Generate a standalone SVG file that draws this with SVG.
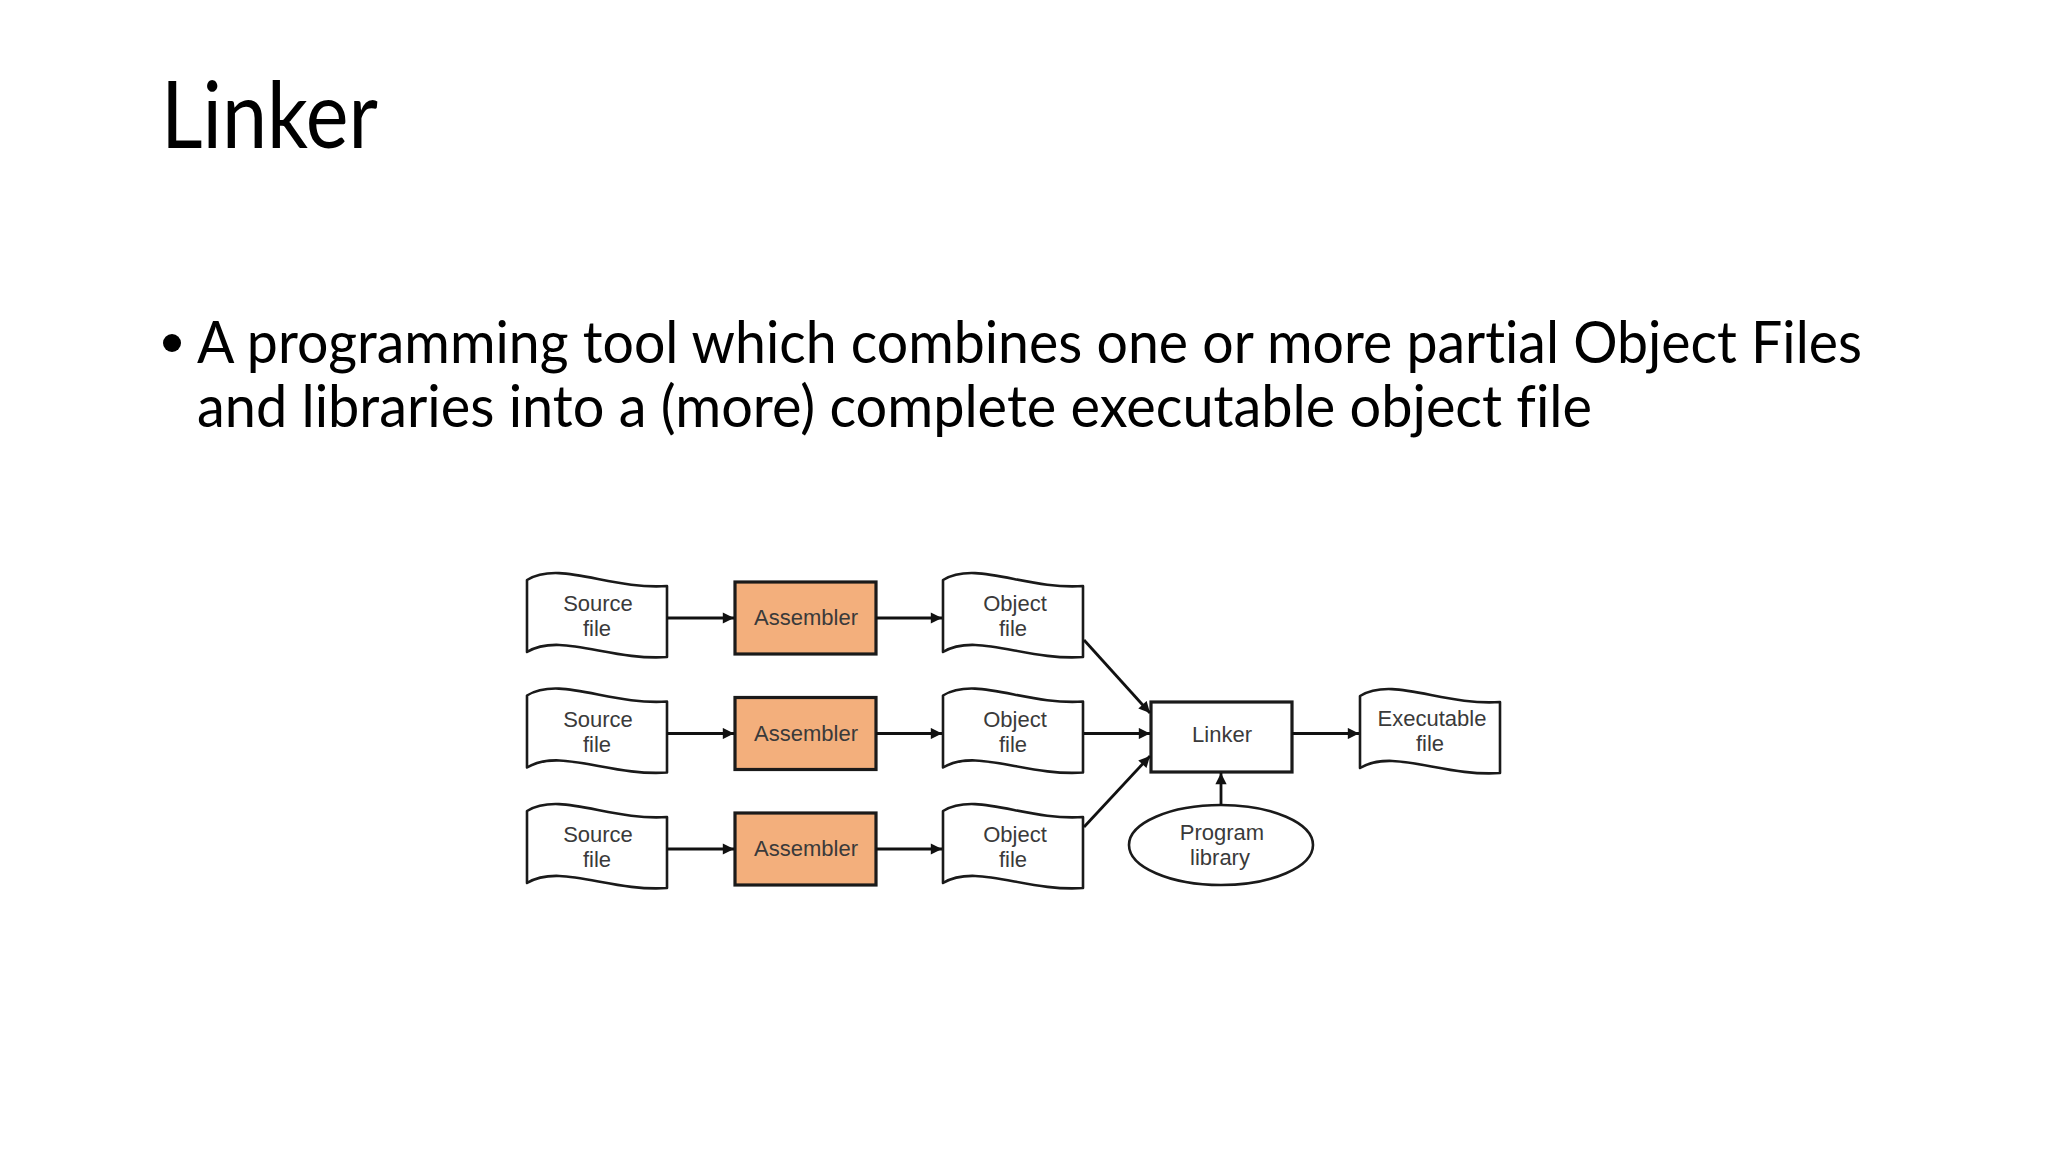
<svg xmlns="http://www.w3.org/2000/svg" xmlns:xlink="http://www.w3.org/1999/xlink" width="2048" height="1152" viewBox="0 0 2048 1152">
  <style>
    .title { font-family: Lato, "Open Sans", "Liberation Sans", sans-serif; font-size: 93px; fill: #000; }
    .body { font-family: Lato, "Open Sans", "Liberation Sans", sans-serif; font-size: 58px; fill: #000; font-variant-ligatures: none; }
    .lbl { font-family: "Liberation Sans", Arial, sans-serif; font-size: 22px; fill: #3a3a3a; text-anchor: middle; }
    .doc { fill: #fff; stroke: #1a1a1a; stroke-width: 2.6; stroke-linejoin: round; }
    .box { stroke: #1a1a1a; stroke-width: 3.2; }
    .asm { fill: #F3AF7C; }
    .lnk { fill: #fff; }
    .conn line { stroke: #111; stroke-width: 2.8; marker-end: url(#arrow); }
  </style>
  <defs>
    <path id="docshape" d="M0,9 C33,-11 83,19 140,15 L140,86 C83,90 33,61 0,81 Z"/>
    <marker id="arrow" viewBox="0 0 10 10" refX="10" refY="5" markerWidth="4.5" markerHeight="4" orient="auto" markerUnits="strokeWidth">
      <path d="M0,0 L10,5 L0,10 Z" fill="#111"/>
    </marker>
  </defs>
  <rect width="2048" height="1152" fill="#fff"/>

  <text class="title" x="161" y="148" textLength="217" lengthAdjust="spacingAndGlyphs">Linker</text>
  <circle cx="172" cy="343" r="9" fill="#000"/>
  <text class="body" x="197" y="363" textLength="1665" lengthAdjust="spacingAndGlyphs">A programming tool which combines one or more partial Object Files</text>
  <text class="body" x="197" y="427" textLength="1395" lengthAdjust="spacingAndGlyphs">and libraries into a (more) complete executable object file</text>

  <g id="src1"><use xlink:href="#docshape" class="doc" transform="translate(527,571)"/><text class="lbl" x="598" y="611">Source</text><text class="lbl" x="597" y="636">file</text></g>
  <g id="src2"><use xlink:href="#docshape" class="doc" transform="translate(527,686.5)"/><text class="lbl" x="598" y="726.5">Source</text><text class="lbl" x="597" y="751.5">file</text></g>
  <g id="src3"><use xlink:href="#docshape" class="doc" transform="translate(527,802)"/><text class="lbl" x="598" y="842">Source</text><text class="lbl" x="597" y="867">file</text></g>

  <g id="asm1"><rect class="box asm" x="735" y="582" width="141" height="72"/><text class="lbl" x="806" y="625">Assembler</text></g>
  <g id="asm2"><rect class="box asm" x="735" y="697.5" width="141" height="72"/><text class="lbl" x="806" y="740.5">Assembler</text></g>
  <g id="asm3"><rect class="box asm" x="735" y="813" width="141" height="72"/><text class="lbl" x="806" y="856">Assembler</text></g>

  <g id="obj1"><use xlink:href="#docshape" class="doc" transform="translate(943,571)"/><text class="lbl" x="1015" y="611">Object</text><text class="lbl" x="1013" y="636">file</text></g>
  <g id="obj2"><use xlink:href="#docshape" class="doc" transform="translate(943,686.5)"/><text class="lbl" x="1015" y="726.5">Object</text><text class="lbl" x="1013" y="751.5">file</text></g>
  <g id="obj3"><use xlink:href="#docshape" class="doc" transform="translate(943,802)"/><text class="lbl" x="1015" y="842">Object</text><text class="lbl" x="1013" y="867">file</text></g>

  <g id="linker"><rect class="box lnk" x="1151" y="702" width="141" height="70"/><text class="lbl" x="1222" y="742">Linker</text></g>
  <g id="exe"><use xlink:href="#docshape" class="doc" transform="translate(1360,687)"/><text class="lbl" x="1432" y="726">Executable</text><text class="lbl" x="1430" y="751">file</text></g>
  <g id="lib"><ellipse class="doc" cx="1221" cy="845" rx="92" ry="40"/><text class="lbl" x="1222" y="840">Program</text><text class="lbl" x="1220" y="865">library</text></g>

  <g id="connectors" class="conn">
    <line x1="667" y1="618" x2="734" y2="618"/>
    <line x1="667" y1="733.5" x2="734" y2="733.5"/>
    <line x1="667" y1="849" x2="734" y2="849"/>
    <line x1="876" y1="618" x2="942" y2="618"/>
    <line x1="876" y1="733.5" x2="942" y2="733.5"/>
    <line x1="876" y1="849" x2="942" y2="849"/>
    <line x1="1084" y1="640" x2="1150" y2="713"/>
    <line x1="1084" y1="733.5" x2="1150" y2="733.5"/>
    <line x1="1084" y1="827" x2="1150" y2="756"/>
    <line x1="1292" y1="733.5" x2="1359" y2="733.5"/>
    <line x1="1221" y1="805" x2="1221" y2="773"/>
  </g>
</svg>
